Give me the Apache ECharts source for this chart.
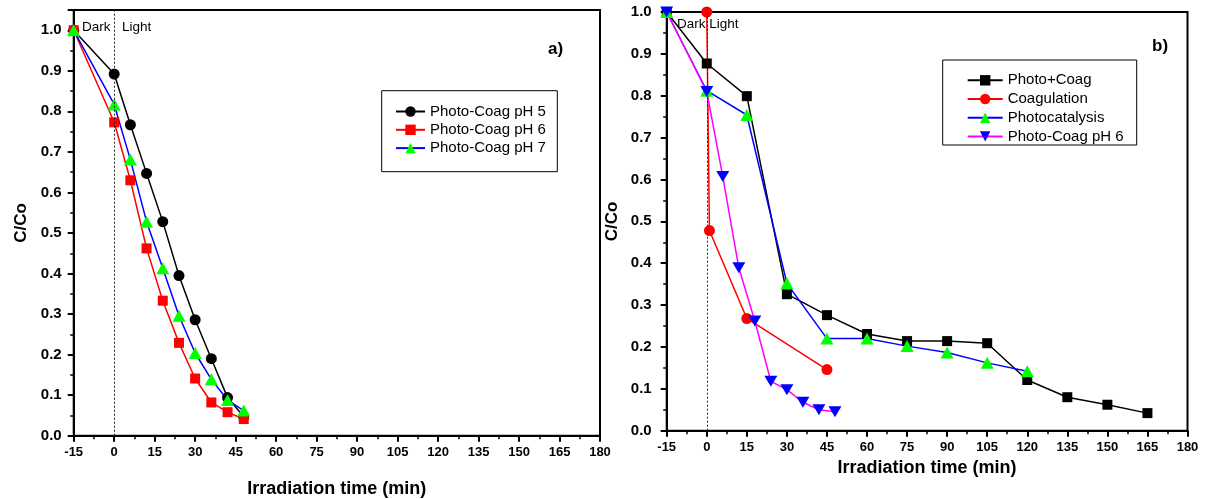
<!DOCTYPE html>
<html>
<head>
<meta charset="utf-8">
<script src="https://cdn.jsdelivr.net/npm/echarts@6/dist/echarts.min.js"></script>
<style>
  html, body { margin: 0; padding: 0; background: #fff; }
  #chart { width: 1212px; height: 499px; }
</style>
</head>
<body>
<div id="chart"></div>
<script>
// Panel a) – photo-coagulation at different pH
const timeA = [-15, 0, 6, 12, 18, 24, 30, 36, 42, 48];
const ph5 = [1.0, 0.892, 0.767, 0.647, 0.528, 0.395, 0.286, 0.190, 0.094, 0.047];
const ph6 = [1.0, 0.773, 0.630, 0.462, 0.333, 0.229, 0.141, 0.082, 0.058, 0.041];
const ph7 = [1.0, 0.817, 0.681, 0.528, 0.413, 0.296, 0.204, 0.139, 0.088, 0.062];

// Panel b) – comparison of processes
const timePhotoCoag = [-15, 0, 15, 30, 45, 60, 75, 90, 105, 120, 135, 150, 165];
const photoCoag = [1.0, 0.877, 0.799, 0.326, 0.276, 0.231, 0.214, 0.214, 0.209, 0.121, 0.080, 0.062, 0.042];
const timeCoag = [0, 1, 15, 45];
const coagulation = [1.0, 0.478, 0.268, 0.146];
const timePhotocat = [-15, 0, 15, 30, 45, 60, 75, 90, 105, 120];
const photocatalysis = [1.0, 0.812, 0.754, 0.352, 0.220, 0.220, 0.202, 0.187, 0.162, 0.142];
const timePH6 = [-15, 0, 6, 12, 18, 24, 30, 36, 42, 48];
const photoCoagPH6 = [1.0, 0.810, 0.607, 0.389, 0.262, 0.118, 0.098, 0.068, 0.050, 0.045];

const xTicks = { min: -15, max: 180, interval: 15 };
const FONT = 'Liberation Sans, Arial, Helvetica, sans-serif';

const pairs = (xs, ys) => xs.map((x, i) => [x, ys[i]]);

function xAxisFor(gridIndex, gap) {
  return {
    type: 'value', gridIndex,
    min: xTicks.min, max: xTicks.max, interval: xTicks.interval,
    name: 'Irradiation time (min)', nameLocation: 'middle', nameGap: gap,
    nameTextStyle: { fontFamily: FONT, fontWeight: 'bold', fontSize: 18, color: '#000' },
    axisLine: { show: true, onZero: false, lineStyle: { color: '#000', width: 2 } },
    axisTick: { show: true, inside: false, length: 6, lineStyle: { color: '#000', width: 2 } },
    minorTick: { show: true, splitNumber: 2, length: 3.5, lineStyle: { color: '#000', width: 1.5 } },
    axisLabel: { fontFamily: FONT, fontWeight: 'bold', fontSize: 13, color: '#000', margin: 10 },
    splitLine: { show: false }
  };
}

function yAxisFor(gridIndex, max, gap, labelMargin) {
  return {
    type: 'value', gridIndex,
    min: 0, max, interval: 0.1,
    name: 'C/Co', nameLocation: 'middle', nameGap: gap,
    nameTextStyle: { fontFamily: FONT, fontWeight: 'bold', fontSize: 17, color: '#000' },
    axisLine: { show: true, onZero: false, lineStyle: { color: '#000', width: 2 } },
    axisTick: { show: true, inside: false, length: 6, lineStyle: { color: '#000', width: 2 } },
    minorTick: { show: true, splitNumber: 2, length: 3.5, lineStyle: { color: '#000', width: 1.5 } },
    axisLabel: {
      fontFamily: FONT, fontWeight: 'bold', fontSize: 15, color: '#000', margin: labelMargin,
      showMaxLabel: max === 1.0, formatter: v => v.toFixed(1)
    },
    splitLine: { show: false }
  };
}

const boundaryLine = {
  silent: true, symbol: ['none', 'none'], animation: false,
  label: { show: false },
  lineStyle: { color: '#222', width: 1, type: [2, 2] },
  data: [{ xAxis: 0 }]
};

function lineSeries(name, axis, data, lineColor, symbol, size, fill, extra) {
  return Object.assign({
    name, type: 'line', xAxisIndex: axis, yAxisIndex: axis,
    data, symbol, symbolSize: size, showAllSymbol: true,
    lineStyle: { color: lineColor, width: 1.5 },
    itemStyle: { color: fill, borderColor: fill, borderWidth: 0 },
    clip: false, animation: false
  }, extra || {});
}

const downTriangle = 'path://M0,0 L10,0 L5,9 Z';

const legendText = { fontFamily: FONT, fontSize: 15, color: '#000', lineHeight: 15 };

const chart = echarts.init(document.getElementById('chart'), null, { renderer: 'canvas' });
chart.setOption({
  backgroundColor: '#fff',
  animation: false,
  grid: [
    { left: 73.7, top: 10, width: 526.3, height: 425.7, show: true, borderColor: '#000', borderWidth: 2, containLabel: false, outerBoundsMode: 'none' },
    { left: 666.7, top: 12, width: 520.8, height: 418.7, show: true, borderColor: '#000', borderWidth: 2, containLabel: false, outerBoundsMode: 'none' }
  ],
  xAxis: [xAxisFor(0, 44), xAxisFor(1, 27)],
  yAxis: [yAxisFor(0, 1.05, 44, 12), yAxisFor(1, 1.0, 46, 15)],
  legend: [
    {
      data: ['Photo-Coag pH 5', 'Photo-Coag pH 6', 'Photo-Coag pH 7'],
      orient: 'vertical', left: 395, top: 104, padding: 0,
      itemWidth: 29, itemHeight: 13, itemGap: 3.3,
      textStyle: legendText,
      selectedMode: false
    },
    {
      data: ['Photo+Coag', 'Coagulation', 'Photocatalysis', 'Photo-Coag pH 6 '],
      formatter: n => n.trim(),
      orient: 'vertical', left: 966.7, top: 72.8, padding: 0,
      itemWidth: 35, itemHeight: 13, itemGap: 3.7,
      textStyle: legendText,
      selectedMode: false
    }
  ],
  graphic: [
    { type: 'rect', shape: { x: 381.7, y: 90.7, width: 175.6, height: 81 }, style: { fill: 'none', stroke: '#000', lineWidth: 1 }, z: 1 },
    { type: 'rect', shape: { x: 942.7, y: 60, width: 194, height: 85 }, style: { fill: 'none', stroke: '#000', lineWidth: 1 }, z: 1 },
    { type: 'text', x: 82, y: 27, style: { text: 'Dark', font: '13.5px ' + FONT, fill: '#000', textVerticalAlign: 'middle' } },
    { type: 'text', x: 122, y: 27, style: { text: 'Light', font: '13.5px ' + FONT, fill: '#000', textVerticalAlign: 'middle' } },
    { type: 'text', x: 677, y: 24, style: { text: 'Dark Light', font: '13.5px ' + FONT, fill: '#000', textVerticalAlign: 'middle' } },
    { type: 'text', x: 548, y: 49, style: { text: 'a)', font: 'bold 17px ' + FONT, fill: '#000', textVerticalAlign: 'middle' } },
    { type: 'text', x: 1152, y: 46, style: { text: 'b)', font: 'bold 17px ' + FONT, fill: '#000', textVerticalAlign: 'middle' } }
  ],
  series: [
    lineSeries('Photo-Coag pH 5', 0, pairs(timeA, ph5), '#000000', 'circle', 11, '#000000', { markLine: boundaryLine }),
    lineSeries('Photo-Coag pH 6', 0, pairs(timeA, ph6), '#ff0000', 'rect', 10, '#ff0000'),
    lineSeries('Photo-Coag pH 7', 0, pairs(timeA, ph7), '#0000ff', 'triangle', [13, 12], '#00ff00'),

    lineSeries('Photo+Coag', 1, pairs(timePhotoCoag, photoCoag), '#000000', 'rect', 10, '#000000', { markLine: boundaryLine }),
    lineSeries('Coagulation', 1, pairs(timeCoag, coagulation), '#ff0000', 'circle', 11, '#ff0000'),
    lineSeries('Photocatalysis', 1, pairs(timePhotocat, photocatalysis), '#0000ff', 'triangle', [13, 12], '#00ff00'),
    lineSeries('Photo-Coag pH 6 ', 1, pairs(timePH6, photoCoagPH6), '#ff00ff', downTriangle, [13, 11], '#0000ff')
  ]
});
</script>
</body>
</html>
